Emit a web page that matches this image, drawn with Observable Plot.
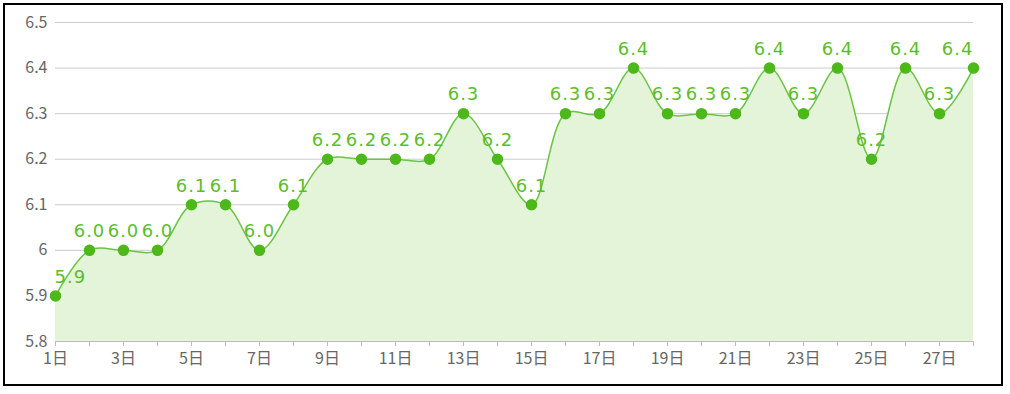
<!DOCTYPE html>
<html><head><meta charset="utf-8">
<script src="https://cdn.jsdelivr.net/npm/d3@7"></script>
<script src="https://cdn.jsdelivr.net/npm/@observablehq/plot@0.6"></script>
<style>
html,body{margin:0;padding:0;background:#fff;width:1010px;height:394px;overflow:hidden;}
#frame{position:absolute;left:3px;top:3px;width:996px;height:379px;border:2px solid #000;}
#chart{position:absolute;left:0;top:0;}
</style></head>
<body>
<div id="frame"></div>
<div id="chart"></div>
<script>
const days = d3.range(1, 29);
const values = [5.9,6.0,6.0,6.0,6.1,6.1,6.0,6.1,6.2,6.2,6.2,6.2,6.3,6.2,6.1,6.3,6.3,6.4,6.3,6.3,6.3,6.4,6.3,6.4,6.2,6.4,6.3,6.4];
const yTicks = [5.8,5.9,6.0,6.1,6.2,6.3,6.4,6.5];
const dayLabel = d => d % 2 === 1 ? d + "日" : "";

const data = days.map((d, i) => ({day: d, value: values[i]}));
const green = "#5cbd2c";
const n = data.length;
const lblFont = "'DejaVu Sans', Verdana, sans-serif";
const fmt = d => d3.format(".1f")(d.value);

const chart = Plot.plot({
  width: 1010, height: 394,
  marginLeft: 55, marginRight: 37, marginTop: 22, marginBottom: 53,
  style: {fontFamily: "'Noto Sans CJK SC', sans-serif", fontSize: "15px", color: "#666", background: "transparent"},
  x: {domain: [1, 28]},
  y: {domain: [5.8, 6.5]},
  marks: [
    Plot.ruleY(yTicks.slice(1), {stroke: "#cccccc", strokeWidth: 1}),
    Plot.areaY(data, {x: "day", y1: 5.8, y2: "value", curve: "catmull-rom", fill: "#e3f4d9"}),
    Plot.ruleY([5.8], {stroke: "#bbbbbb", strokeWidth: 1}),
    Plot.axisY({ticks: yTicks, tickSize: 0, tickPadding: 8, tickFormat: d => d3.format("")(+d.toFixed(1)), fill: "#666", label: null}),
    Plot.axisX({ticks: days, tickSize: 5, tickPadding: 6, tickFormat: dayLabel, stroke: "#bbbbbb", fill: "#666", label: null}),
    Plot.line(data, {x: "day", y: "value", curve: "catmull-rom", stroke: "#6cc443", strokeWidth: 1.5}),
    Plot.dot(data, {x: "day", y: "value", r: 5, fill: "#4db81a", stroke: "#4db81a"}),
    Plot.text(data.slice(1, n - 1), {x: "day", y: "value", text: fmt, dy: -19, fill: green, fontSize: 18, fontFamily: lblFont}),
    Plot.text(data.slice(0, 1), {x: "day", y: "value", text: fmt, dy: -19, dx: -1, textAnchor: "start", fill: green, fontSize: 18, fontFamily: lblFont}),
    Plot.text(data.slice(n - 1), {x: "day", y: "value", text: fmt, dy: -19, textAnchor: "end", fill: green, fontSize: 18, fontFamily: lblFont})
  ]
});
const svg = d3.select(chart);
svg.selectAll("text").each(function(){
  const isGreen = this.getAttribute("fill") === green || (this.parentNode && this.parentNode.getAttribute("fill") === green);
  if (isGreen) d3.select(this).style("letter-spacing", "1px");
  else d3.select(this).style("font-size", "16px");
});
document.getElementById("chart").append(chart);
</script>
</body></html>
